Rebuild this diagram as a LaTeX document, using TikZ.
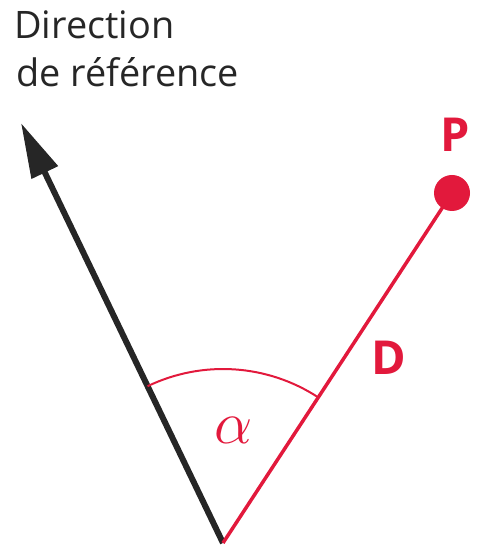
\documentclass[tikz,border=0pt]{standalone}
\usepackage{fontspec}
\setsansfont{Open Sans}
\usetikzlibrary{arrows.meta}
\definecolor{myred}{HTML}{E2193C}
\definecolor{myblack}{HTML}{262626}
\tikzset{
  refline/.style={line width=6bp, draw=myblack, -{Triangle[length=55bp,width=28bp]}},
  redline/.style={line width=3.5bp, draw=myred},
  redarc/.style={line width=2bp, draw=myred},
  dirtext/.style={font=\sffamily\fontsize{38}{46}\selectfont, text=myblack, inner sep=0pt, anchor=base west},
  redlabel/.style={font=\sffamily\bfseries\fontsize{47}{52}\selectfont, text=myred, inner sep=0pt, anchor=base west},
  dot/.style={circle, fill=myred, minimum size=36bp, inner sep=0pt}
}
\begin{document}
\begin{tikzpicture}[x=1bp,y=1bp]
\useasboundingbox (0,0) rectangle (477,550);
\coordinate (O) at (223,7);
\coordinate (T) at (21,427);
\node[dot] (P) at (452,357) {};
\draw[refline] (O) -- (T);
\draw[redline] (O) -- (P.center);
\draw[redarc] (O) ++(115.7:174) arc[start angle=115.7, end angle=56.8, radius=174];
\node[dirtext] (dir1) at (14,511) {Direction};
\node[dirtext] (dir2) at (16,463) {de référence};
\node[redlabel] (Plabel) at (440,398) {P};
\node[redlabel] (Dlabel) at (371,175) {D};
\node[text=myred, inner sep=0pt, font=\Huge] (alpha) at (234,120) {\scalebox{2.45}{$\alpha$}};
\end{tikzpicture}
\end{document}
